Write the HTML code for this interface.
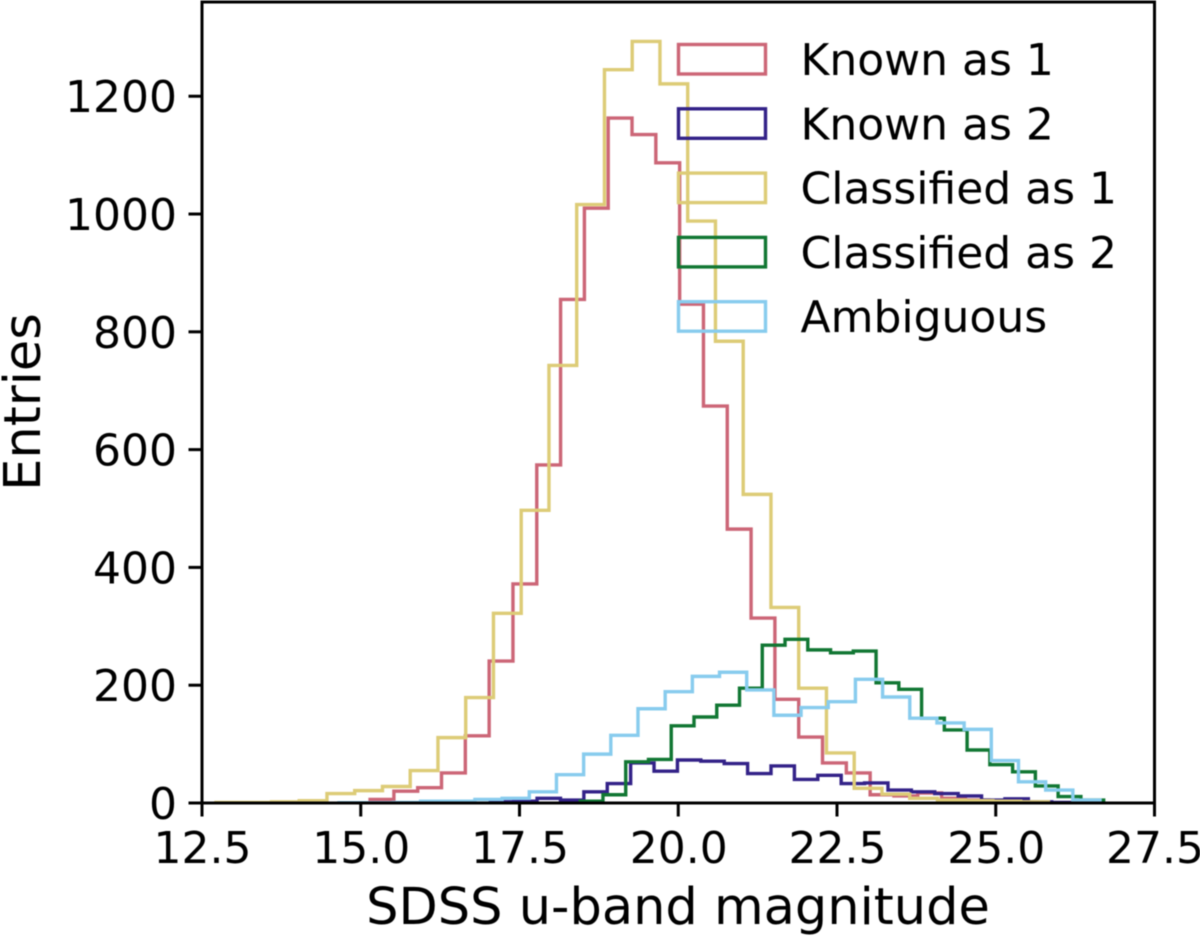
<!DOCTYPE html>
<html lang="en">
<head>
<meta charset="utf-8">
<title>SDSS u-band magnitude histogram</title>
<style>
html,body{margin:0;padding:0;background:#fff;overflow:hidden;}
svg{display:block;filter:blur(0.45px);}
text{font-family:"DejaVu Sans","Liberation Sans",sans-serif;fill:#000;}
</style>
</head>
<body>
<svg id="chart" xmlns="http://www.w3.org/2000/svg" width="1200" height="936" viewBox="0 0 1200 936">
  <rect x="0" y="0" width="1200" height="936" fill="#ffffff"/>
  <g id="series-layer"></g>
  <g id="axis-layer"></g>
  <g id="legend-layer"></g>
</svg>
<script>
// Histogram counts per bin, with each series' first bin edge and bin width (magnitudes)
const known1Counts = [6,20,26,51,114,241,372,574,855,1010,1163,1135,1087,847,674,465,314,176,112,68,51,14,12,17,8,5,3,2];
const known1Start = 15.147;
const known1Width = 0.375;
const known2Counts = [2,3,8,5,19,33,68,54,73,71,67,50,63,40,47,33,34,22,19,16,12,5,7,2,1];
const known2Start = 17.04;
const known2Width = 0.3684;
const class1Counts = [1,1,2,4,16,21,28,55,111,179,322,497,743,1016,1245,1293,1221,988,784,524,332,195,85,25,15,8,5,4,3,2];
const class1Start = 12.72;
const class1Width = 0.437;
const class2Counts = [3,14,70,74,131,146,166,195,268,278,260,255,258,204,193,144,124,90,65,53,29,11,5];
const class2Start = 18.456;
const class2Width = 0.3584;
const ambigCounts = [0.5,0.5,1,3,3,6,8,19,48,83,115,160,189,215,222,192,149,162,172,210,180,144,136,125,72,36,22,5];
const ambigStart = 14.658;
const ambigWidth = 0.428;

const xTickValues = [12.5,15,17.5,20,22.5,25,27.5];
const xTickLabels = ["12.5","15.0","17.5","20.0","22.5","25.0","27.5"];
const yTickValues = [0,200,400,600,800,1000,1200];
const yTickLabels = ["0","200","400","600","800","1000","1200"];
const seriesLabels = ["Known as 1","Known as 2","Classified as 1","Classified as 2","Ambiguous"];
const seriesKeys = ["known-as-1","known-as-2","classified-as-1","classified-as-2","ambiguous"];
const seriesCounts = [known1Counts,known2Counts,class1Counts,class2Counts,ambigCounts];
const seriesStarts = [known1Start,known2Start,class1Start,class2Start,ambigStart];
const seriesWidths = [known1Width,known2Width,class1Width,class2Width,ambigWidth];
const seriesColors = ["#CC6677","#332288","#DDCC77","#117733","#88CCEE"];

const plotLeft = 202, plotRight = 1154.5, plotTop = 2, plotBottom = 803;
const xMin = 12.5, xMax = 27.5, yMin = 0, yMax = 1360;
const NS = "http://www.w3.org/2000/svg";

function xScale(v){ return plotLeft + (v - xMin) / (xMax - xMin) * (plotRight - plotLeft); }
function yScale(v){ return plotBottom - (v - yMin) / (yMax - yMin) * (plotBottom - plotTop); }
function make(tag, attrs, parent){
  const el = document.createElementNS(NS, tag);
  for (const k in attrs) el.setAttribute(k, attrs[k]);
  parent.appendChild(el);
  return el;
}

const seriesLayer = document.getElementById("series-layer");
const axisLayer = document.getElementById("axis-layer");
const legendLayer = document.getElementById("legend-layer");

// Step outlines
seriesCounts.forEach(function(counts, i){
  let d = "M" + xScale(seriesStarts[i]).toFixed(2) + "," + yScale(0).toFixed(2);
  counts.forEach(function(c, b){
    const x0 = xScale(seriesStarts[i] + b * seriesWidths[i]);
    const x1 = xScale(seriesStarts[i] + (b + 1) * seriesWidths[i]);
    d += "L" + x0.toFixed(2) + "," + yScale(c).toFixed(2) + "L" + x1.toFixed(2) + "," + yScale(c).toFixed(2);
  });
  d += "L" + xScale(seriesStarts[i] + counts.length * seriesWidths[i]).toFixed(2) + "," + yScale(0).toFixed(2);
  const path = make("path", {d: d, fill: "none", stroke: seriesColors[i], "stroke-width": 3.4, "stroke-linejoin": "miter"}, seriesLayer);
  
  
});

// X ticks and labels
xTickValues.forEach(function(v, i){
  const px = xScale(v);
  const tick = make("line", {x1: px, x2: px, y1: plotBottom, y2: plotBottom + 13.5, stroke: "#000", "stroke-width": 3}, axisLayer);
  
  
  const label = make("text", {x: px + 0.5, y: 863, "font-size": 44, "text-anchor": "middle"}, axisLayer);
  
  
  label.textContent = xTickLabels[i];
});

// Y ticks and labels
yTickValues.forEach(function(v, i){
  const py = yScale(v);
  const tick = make("line", {x1: plotLeft - 13.5, x2: plotLeft, y1: py, y2: py, stroke: "#000", "stroke-width": 3}, axisLayer);
  
  
  const label = make("text", {x: 177, y: py + 16, "font-size": 44, "text-anchor": "end"}, axisLayer);
  
  
  label.textContent = yTickLabels[i];
});

// Spines
const spine = make("rect", {x: plotLeft, y: plotTop, width: plotRight - plotLeft, height: plotBottom - plotTop, fill: "none", stroke: "#000", "stroke-width": 3}, axisLayer);



// Axis titles
const xTitle = make("text", {x: 678, y: 924, "font-size": 51, "text-anchor": "middle"}, axisLayer);


xTitle.textContent = "SDSS u-band magnitude";
const yTitle = make("text", {x: 0, y: 0, "font-size": 51, "text-anchor": "middle", transform: "translate(40,402) rotate(-90)"}, axisLayer);


yTitle.textContent = "Entries";

// Legend
seriesLabels.forEach(function(name, i){
  const top = 44.5 + i * 64.3;
  const box = make("rect", {x: 678.5, y: top, width: 87, height: 29.5, fill: "none", stroke: seriesColors[i], "stroke-width": 3.4}, legendLayer);
  
  
  const text = make("text", {x: 800.5, y: top + 30.5, "font-size": 44}, legendLayer);
  
  
  text.textContent = name;
});
</script>
</body>
</html>
